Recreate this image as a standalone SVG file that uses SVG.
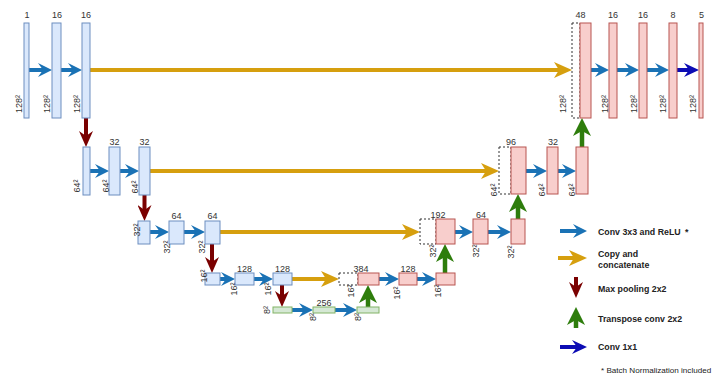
<svg xmlns="http://www.w3.org/2000/svg" width="716" height="377" viewBox="0 0 716 377">
<style>
text{font-family:"Liberation Sans",Arial,sans-serif;fill:#333}
.n{font-size:9px;text-anchor:middle}
.r{font-size:9px;text-anchor:middle}
.lg{font-size:8.8px;font-weight:bold;fill:#222}
.bn{font-size:8.1px;fill:#222}
.enc{fill:#dae8fc;stroke:#6c8ebf;stroke-width:1}
.dec{fill:#f8cecc;stroke:#b85450;stroke-width:1}
.bot{fill:#d5e8d4;stroke:#82b366;stroke-width:1}
.dash{fill:none;stroke:#333;stroke-width:1;stroke-dasharray:2,2}
.cv{stroke:#1a72b5;stroke-width:4;fill:none;marker-end:url(#hb)}
.cp{stroke:#d69f0e;stroke-width:4;fill:none;marker-end:url(#ho)}
.mp{stroke:#7a0000;stroke-width:4;fill:none;marker-end:url(#hr)}
.up{stroke:#2e7d0c;stroke-width:4.5;fill:none;marker-end:url(#hg)}
.c1{stroke:#0c0cb4;stroke-width:4;fill:none;marker-end:url(#hd)}
</style>
<defs>
<marker id="hb" viewBox="0 0 14 14" refX="5" refY="7" markerWidth="14" markerHeight="14" markerUnits="userSpaceOnUse" orient="auto"><path d="M0,0 L14,7 L0,14 L5,7z" fill="#1a72b5"/></marker>
<marker id="ho" viewBox="0 0 18 16" refX="5" refY="8" markerWidth="18" markerHeight="16" markerUnits="userSpaceOnUse" orient="auto"><path d="M0,0 L18,8 L0,16 L5,8z" fill="#d69f0e"/></marker>
<marker id="hr" viewBox="0 0 16 14" refX="5" refY="7" markerWidth="16" markerHeight="14" markerUnits="userSpaceOnUse" orient="auto"><path d="M0,0 L16,7 L0,14 L5,7z" fill="#7a0000"/></marker>
<marker id="hg" viewBox="0 0 18 18" refX="5" refY="9" markerWidth="18" markerHeight="18" markerUnits="userSpaceOnUse" orient="auto"><path d="M0,0 L18,9 L0,18 L5,9z" fill="#2e7d0c"/></marker>
<marker id="hd" viewBox="0 0 15 14" refX="5" refY="7" markerWidth="15" markerHeight="14" markerUnits="userSpaceOnUse" orient="auto"><path d="M0,0 L15,7 L0,14 L5,7z" fill="#0c0cb4"/></marker>
</defs>

<g id="connectors">
<path class="cv" d="M29,70 H43"/>
<path class="cv" d="M61,70 H73"/>
<path class="cp" d="M90,70 H559"/>
<path class="cv" d="M591,70 H600"/>
<path class="cv" d="M617,70 H630"/>
<path class="cv" d="M647,70 H660"/>
<path class="c1" d="M677,70 H689"/>
<path class="cv" d="M90,171 H100"/>
<path class="cv" d="M120,171 H130"/>
<path class="cp" d="M150,171 H486"/>
<path class="cv" d="M526,171 H538"/>
<path class="cv" d="M558,171 H567"/>
<path class="cv" d="M150,232 H160"/>
<path class="cv" d="M184,232 H196"/>
<path class="cp" d="M220,232 H407"/>
<path class="cv" d="M455,232 H464"/>
<path class="cv" d="M488,232 H502"/>
<path class="cv" d="M220,279 H226"/>
<path class="cv" d="M254,279 H264"/>
<path class="cp" d="M292,279 H326"/>
<path class="cv" d="M379,279 H390"/>
<path class="cv" d="M417,279 H427"/>
<path class="cv" d="M292,310 H304"/>
<path class="cv" d="M335,310 H348"/>
<path class="mp" d="M86,118 V136"/>
<path class="mp" d="M144.5,195 V210"/>
<path class="mp" d="M212,244 V262"/>
<path class="mp" d="M282,285 V296"/>
<path class="up" d="M368,307 V298"/>
<path class="up" d="M445,273 V257"/>
<path class="up" d="M518,219 V207"/>
<path class="up" d="M582,147 V131"/>
</g>

<g id="e1a"><rect class="enc" x="24" y="23" width="5" height="95"/><text class="n" x="27" y="18">1</text><text class="r" transform="translate(21.5,104) rotate(-90)">128²</text></g>
<g id="e1b"><rect class="enc" x="52" y="23" width="9" height="95"/><text class="n" x="57" y="18">16</text><text class="r" transform="translate(49.5,104) rotate(-90)">128²</text></g>
<g id="e1c"><rect class="enc" x="82" y="23" width="8" height="95"/><text class="n" x="86" y="18">16</text><text class="r" transform="translate(79.5,104) rotate(-90)">128²</text></g>
<g id="e2a"><rect class="enc" x="83" y="147" width="7" height="48"/><text class="r" transform="translate(79.5,186) rotate(-90)">64²</text></g>
<g id="e2b"><rect class="enc" x="109" y="147" width="11" height="48"/><text class="n" x="114.5" y="145">32</text><text class="r" transform="translate(109,186) rotate(-90)">64²</text></g>
<g id="e2c"><rect class="enc" x="139" y="147" width="11" height="48"/><text class="n" x="144.5" y="145">32</text><text class="r" transform="translate(138,187) rotate(-90)">64²</text></g>
<g id="e3a"><rect class="enc" x="138" y="221" width="12" height="23"/><text class="r" transform="translate(139.5,230) rotate(-90)">32²</text></g>
<g id="e3b"><rect class="enc" x="169" y="221" width="15" height="23"/><text class="n" x="176.5" y="218.5">64</text><text class="r" transform="translate(169.5,247) rotate(-90)">32²</text></g>
<g id="e3c"><rect class="enc" x="205" y="221" width="15" height="23"/><text class="n" x="212.5" y="218.5">64</text><text class="r" transform="translate(204.5,247) rotate(-90)">32²</text></g>
<g id="e4a"><rect class="enc" x="205" y="273" width="15" height="12"/><text class="r" transform="translate(206.5,276) rotate(-90)">16²</text></g>
<g id="e4b"><rect class="enc" x="235" y="273" width="19" height="12"/><text class="n" x="244.5" y="272">128</text><text class="r" transform="translate(236.5,289) rotate(-90)">16²</text></g>
<g id="e4c"><rect class="enc" x="273" y="273" width="19" height="12"/><text class="n" x="282.5" y="272">128</text><text class="r" transform="translate(270.5,289) rotate(-90)">16²</text></g>
<g id="b5a"><rect class="bot" x="273" y="307" width="19" height="6"/><text class="r" transform="translate(270,310) rotate(-90)">8²</text></g>
<g id="b5b"><rect class="bot" x="313" y="307" width="22" height="6"/><text class="n" x="324" y="305.5">256</text><text class="r" transform="translate(316,317) rotate(-90)">8²</text></g>
<g id="b5c"><rect class="bot" x="357" y="307" width="22" height="6"/><text class="r" transform="translate(360.5,317) rotate(-90)">8²</text></g>
<g id="d4a"><rect class="dash" x="339" y="273" width="19" height="12"/><rect class="dec" x="358" y="273" width="21" height="12"/><text class="n" x="361" y="272">384</text><text class="r" transform="translate(353.5,291) rotate(-90)">16²</text></g>
<g id="d4b"><rect class="dec" x="399" y="273" width="18" height="12"/><text class="n" x="408" y="272">128</text><text class="r" transform="translate(399.5,293) rotate(-90)">16²</text></g>
<g id="d4c"><rect class="dec" x="436" y="273" width="19" height="12"/><text class="r" transform="translate(440.5,291) rotate(-90)">16²</text></g>
<g id="d3a"><rect class="dash" x="420" y="219" width="16" height="25"/><rect class="dec" x="436" y="219" width="19" height="25"/><text class="n" x="438" y="218">192</text><text class="r" transform="translate(435.5,251) rotate(-90)">32²</text></g>
<g id="d3b"><rect class="dec" x="473" y="219" width="15" height="25"/><text class="n" x="481" y="218">64</text><text class="r" transform="translate(479,251) rotate(-90)">32²</text></g>
<g id="d3c"><rect class="dec" x="511" y="219" width="14" height="25"/><text class="r" transform="translate(513.5,252) rotate(-90)">32²</text></g>
<g id="d2a"><rect class="dash" x="499" y="147" width="12" height="47"/><rect class="dec" x="511" y="147" width="15" height="47"/><text class="n" x="511" y="145">96</text><text class="r" transform="translate(496.5,190) rotate(-90)">64²</text></g>
<g id="d2b"><rect class="dec" x="547" y="147" width="11" height="47"/><text class="n" x="553" y="145">32</text><text class="r" transform="translate(544.5,190) rotate(-90)">64²</text></g>
<g id="d2c"><rect class="dec" x="576" y="147" width="12" height="47"/><text class="r" transform="translate(574.5,190) rotate(-90)">64²</text></g>
<g id="d1a"><rect class="dash" x="572" y="23" width="8" height="95"/><rect class="dec" x="580" y="23" width="11" height="95"/><text class="n" x="580.5" y="18">48</text><text class="r" transform="translate(565.5,104) rotate(-90)">128²</text></g>
<g id="d1b"><rect class="dec" x="609" y="23" width="8" height="95"/><text class="n" x="613" y="18">16</text><text class="r" transform="translate(607.5,104) rotate(-90)">128²</text></g>
<g id="d1c"><rect class="dec" x="639" y="23" width="8" height="95"/><text class="n" x="643" y="18">16</text><text class="r" transform="translate(636.5,104) rotate(-90)">128²</text></g>
<g id="d1d"><rect class="dec" x="669" y="23" width="8" height="95"/><text class="n" x="673" y="18">8</text><text class="r" transform="translate(665.5,104) rotate(-90)">128²</text></g>
<g id="d1e"><rect class="dec" x="699" y="23" width="4" height="95"/><text class="n" x="701.5" y="18">5</text><text class="r" transform="translate(696,104) rotate(-90)">128²</text></g>

<g id="legend">
<path class="cv" d="M560,231 H578"/>
<text class="lg" x="598" y="234.5">Conv 3x3 and ReLU<tspan x="685">*</tspan></text>
<path class="cp" d="M558,258 H574"/>
<text class="lg" x="598" y="257">Copy and</text>
<text class="lg" x="598" y="268">concatenate</text>
<path class="mp" d="M576,277 V287"/>
<text class="lg" x="598" y="292">Max pooling 2x2</text>
<path class="up" d="M576,328 V320"/>
<text class="lg" x="598" y="322">Transpose conv 2x2</text>
<path class="c1" d="M560,347 H577"/>
<text class="lg" x="598" y="350">Conv 1x1</text>
<text class="bn" x="601" y="373">* Batch Normalization included</text>
</g>
</svg>
